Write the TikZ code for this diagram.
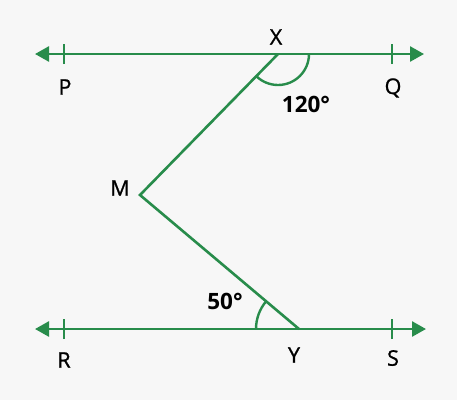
\documentclass[tikz,border=0pt]{standalone}
\usepackage{fontspec}
\setmainfont{Open Sans}
\newfontfamily\medfont{Open Sans}[FakeBold=1]
\usetikzlibrary{arrows.meta}
\definecolor{gr}{RGB}{40,140,75}
\definecolor{bg}{RGB}{247,247,247}
\tikzset{
  ln/.style={draw=gr, line width=2.6pt},
  ray/.style={ln, -{Triangle[length=14pt,width=15pt]}},
  tick/.style={draw=gr, line width=2.2pt},
  ang/.style={draw=gr, line width=2.4pt},
  lab/.style={font=\fontsize{21.5}{21.5}\selectfont\medfont, text=black, inner sep=0pt},
  deg/.style={font=\fontsize{22.5}{22.5}\selectfont\bfseries, text=black, inner sep=0pt}
}
\begin{document}
\begin{tikzpicture}[x=1pt,y=-1pt]
\fill[bg] (0,0) rectangle (457,400);
\useasboundingbox (0,0) rectangle (457,400);
% points
\coordinate (Xp) at (278,54);
\coordinate (Yp) at (299,329);
\coordinate (Mp) at (140,195);
\coordinate (Pl) at (35,54);
\coordinate (Qr) at (424,54);
\coordinate (Rl) at (35,329);
\coordinate (Sr) at (426,329);
\coordinate (Pt) at (64,54);
\coordinate (Qt) at (392,54);
\coordinate (Rt) at (64,329);
\coordinate (St) at (392,329);
% lines
\draw[ray] (Xp) -- (Pl);
\draw[ray] (Xp) -- (Qr);
\draw[ray] (Yp) -- (Rl);
\draw[ray] (Yp) -- (Sr);
\draw[ln, line join=miter] (Xp) -- (Mp) -- (Yp);
% ticks
\foreach \t in {Pt,Qt,Rt,St}
  \draw[tick] ([yshift=-10]\t) -- ([yshift=10]\t);
% angle arcs
\draw[ang] ([xshift=31]Xp) arc[start angle=0, end angle=134.4, radius=31];
\draw[ang] ([xshift=-43]Yp) arc[start angle=180, end angle=220, radius=43];
% labels
\node[lab] (lX) at (276,37) {X};
\node[lab] (lP) at (65,87) {P};
\node[lab] (lQ) at (393,88) {Q};
\node[deg] (l120) at (306,104) {120°};
\node[lab] (lM) at (120,188) {M};
\node[deg] (l50) at (225,301) {50°};
\node[lab] (lR) at (64,360) {R};
\node[lab] (lY) at (294,355) {Y};
\node[lab] (lS) at (393,358) {S};
\end{tikzpicture}
\end{document}
